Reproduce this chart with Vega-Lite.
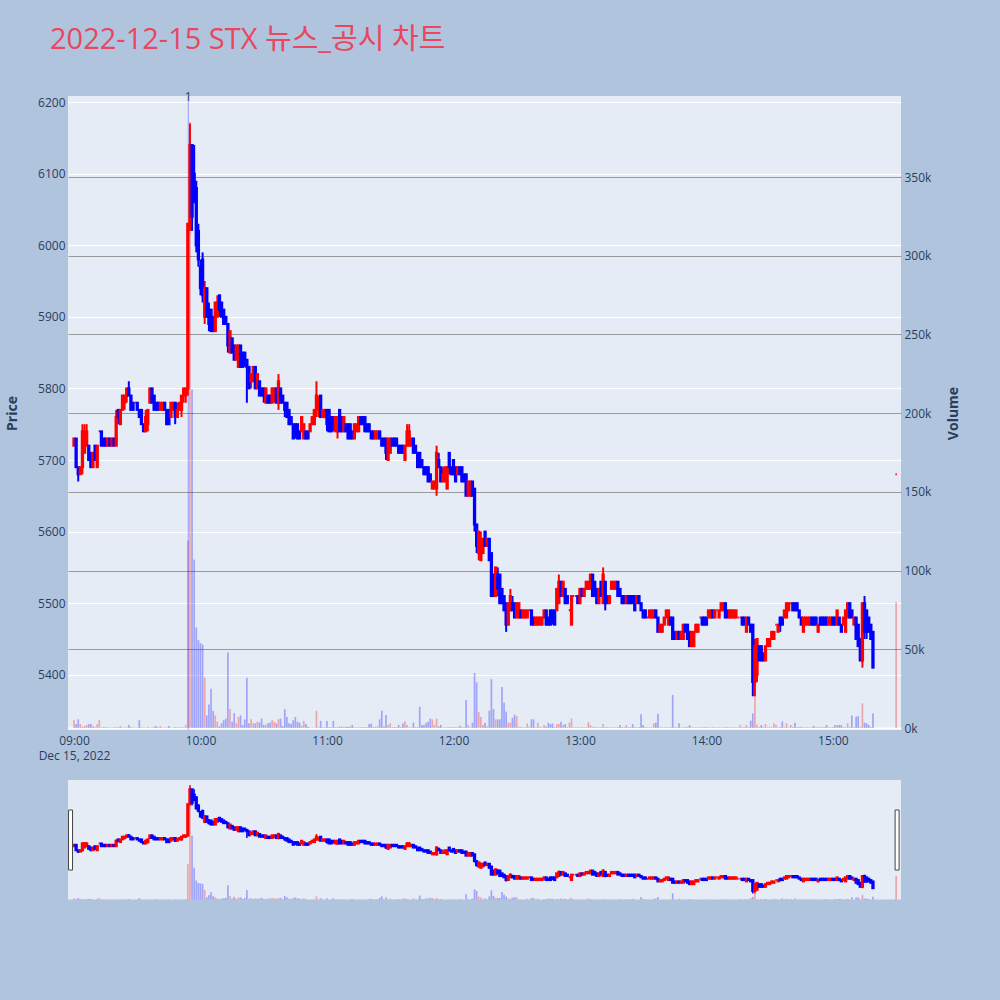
{
"$schema": "https://vega.github.io/schema/vega-lite/v6.json",
"width": 833, "height": 634,
"autosize": {"type": "none"},
"padding": {"left": 68, "top": 96, "right": 99, "bottom": 270},
"background": "#b0c4de",
"config": {"view": {"fill": "#e5ecf6", "stroke": null}, "font": "Open Sans, Noto Sans CJK KR, sans-serif"},
"title": {"text": "2022-12-15 STX 뉴스_공시 차트", "anchor": "start", "frame": "group", "fontSize": 29, "fontWeight": "normal", "color": "#e8475f", "font": "Open Sans, Noto Sans CJK KR, sans-serif", "offset": 13, "dx": -18, "baseline": "alphabetic"},
"data": {"values": [
{"m":0,"o":5720,"h":5730,"l":5720,"c":5730,"v":5000},
{"m":1,"o":5730,"h":5730,"l":5690,"c":5690,"v":2500},
{"m":2,"o":5690,"h":5690,"l":5670,"c":5680,"v":5500},
{"m":3,"o":5680,"h":5690,"l":5680,"c":5690,"v":2500},
{"m":4,"o":5690,"h":5750,"l":5680,"c":5740,"v":800},
{"m":5,"o":5710,"h":5750,"l":5710,"c":5740,"v":1300},
{"m":6,"o":5720,"h":5750,"l":5720,"c":5740,"v":1900},
{"m":7,"o":5720,"h":5720,"l":5700,"c":5700,"v":2500},
{"m":8,"o":5710,"h":5710,"l":5690,"c":5690,"v":2500},
{"m":9,"o":5690,"h":5710,"l":5690,"c":5710,"v":1300},
{"m":10,"o":5720,"h":5720,"l":5700,"c":5700,"v":400},
{"m":11,"o":5690,"h":5720,"l":5690,"c":5720,"v":2500},
{"m":12,"o":5740,"h":5740,"l":5740,"c":5740,"v":5000},
{"m":13,"o":5740,"h":5740,"l":5720,"c":5720,"v":300},
{"m":14,"o":5730,"h":5730,"l":5720,"c":5720,"v":500},
{"m":15,"o":5730,"h":5730,"l":5720,"c":5720,"v":500},
{"m":16,"o":5720,"h":5730,"l":5720,"c":5730,"v":500},
{"m":17,"o":5730,"h":5730,"l":5720,"c":5720,"v":300},
{"m":18,"o":5720,"h":5730,"l":5720,"c":5730,"v":300},
{"m":19,"o":5730,"h":5730,"l":5720,"c":5720,"v":500},
{"m":20,"o":5720,"h":5770,"l":5720,"c":5760,"v":500},
{"m":21,"o":5770,"h":5770,"l":5750,"c":5760,"v":500},
{"m":22,"o":5750,"h":5770,"l":5750,"c":5770,"v":1300},
{"m":23,"o":5770,"h":5790,"l":5770,"c":5790,"v":400},
{"m":24,"o":5780,"h":5790,"l":5770,"c":5790,"v":500},
{"m":25,"o":5790,"h":5800,"l":5780,"c":5800,"v":500},
{"m":26,"o":5800,"h":5810,"l":5790,"c":5790,"v":1900},
{"m":27,"o":5790,"h":5790,"l":5770,"c":5770,"v":500},
{"m":28,"o":5780,"h":5780,"l":5770,"c":5770,"v":300},
{"m":29,"o":5780,"h":5780,"l":5780,"c":5780,"v":300},
{"m":30,"o":5780,"h":5780,"l":5770,"c":5770,"v":300},
{"m":31,"o":5770,"h":5770,"l":5760,"c":5760,"v":5000},
{"m":32,"o":5770,"h":5770,"l":5750,"c":5750,"v":400},
{"m":33,"o":5750,"h":5750,"l":5740,"c":5740,"v":300},
{"m":34,"o":5740,"h":5770,"l":5740,"c":5760,"v":300},
{"m":35,"o":5750,"h":5770,"l":5740,"c":5770,"v":800},
{"m":36,"o":5780,"h":5800,"l":5780,"c":5800,"v":300},
{"m":37,"o":5800,"h":5800,"l":5780,"c":5780,"v":300},
{"m":38,"o":5790,"h":5790,"l":5770,"c":5770,"v":800},
{"m":39,"o":5780,"h":5780,"l":5770,"c":5770,"v":1300},
{"m":40,"o":5780,"h":5780,"l":5770,"c":5770,"v":400},
{"m":41,"o":5770,"h":5780,"l":5770,"c":5780,"v":1300},
{"m":42,"o":5770,"h":5780,"l":5770,"c":5780,"v":300},
{"m":43,"o":5780,"h":5780,"l":5770,"c":5770,"v":300},
{"m":44,"o":5770,"h":5770,"l":5750,"c":5750,"v":300},
{"m":45,"o":5770,"h":5770,"l":5750,"c":5750,"v":1300},
{"m":46,"o":5760,"h":5780,"l":5760,"c":5780,"v":300},
{"m":47,"o":5770,"h":5780,"l":5770,"c":5780,"v":300},
{"m":48,"o":5780,"h":5780,"l":5750,"c":5760,"v":500},
{"m":49,"o":5760,"h":5780,"l":5760,"c":5770,"v":500},
{"m":50,"o":5770,"h":5780,"l":5770,"c":5780,"v":500},
{"m":51,"o":5770,"h":5790,"l":5760,"c":5790,"v":500},
{"m":52,"o":5790,"h":5800,"l":5780,"c":5800,"v":500},
{"m":53,"o":5790,"h":5800,"l":5780,"c":5800,"v":2000},
{"m":54,"o":5800,"h":6030,"l":5790,"c":6030,"v":119000},
{"m":55,"o":6030,"h":6170,"l":6020,"c":6140,"v":385000},
{"m":56,"o":6140,"h":6140,"l":6020,"c":6040,"v":215000},
{"m":57,"o":6100,"h":6140,"l":6060,"c":6060,"v":107000},
{"m":58,"o":6080,"h":6090,"l":5990,"c":6000,"v":64000},
{"m":59,"o":6020,"h":6030,"l":5970,"c":5980,"v":56000},
{"m":60,"o":5970,"h":5980,"l":5930,"c":5940,"v":54000},
{"m":61,"o":5980,"h":5990,"l":5920,"c":5930,"v":53000},
{"m":62,"o":5900,"h":5950,"l":5890,"c":5940,"v":32000},
{"m":63,"o":5940,"h":5940,"l":5900,"c":5900,"v":8000},
{"m":64,"o":5910,"h":5920,"l":5880,"c":5890,"v":15000},
{"m":65,"o":5910,"h":5910,"l":5880,"c":5880,"v":25000},
{"m":66,"o":5900,"h":5900,"l":5880,"c":5880,"v":11000},
{"m":67,"o":5880,"h":5920,"l":5880,"c":5920,"v":8000},
{"m":68,"o":5900,"h":5930,"l":5900,"c":5920,"v":4000},
{"m":69,"o":5930,"h":5930,"l":5900,"c":5910,"v":1000},
{"m":70,"o":5920,"h":5920,"l":5900,"c":5900,"v":3000},
{"m":71,"o":5910,"h":5910,"l":5890,"c":5890,"v":5000},
{"m":72,"o":5900,"h":5900,"l":5890,"c":5890,"v":6000},
{"m":73,"o":5890,"h":5890,"l":5850,"c":5860,"v":48000},
{"m":74,"o":5850,"h":5880,"l":5850,"c":5880,"v":12000},
{"m":75,"o":5870,"h":5870,"l":5850,"c":5850,"v":4000},
{"m":76,"o":5860,"h":5860,"l":5840,"c":5840,"v":9500},
{"m":77,"o":5840,"h":5860,"l":5840,"c":5860,"v":3000},
{"m":78,"o":5830,"h":5860,"l":5830,"c":5860,"v":7000},
{"m":79,"o":5860,"h":5860,"l":5830,"c":5830,"v":8000},
{"m":80,"o":5850,"h":5850,"l":5830,"c":5830,"v":1900},
{"m":81,"o":5850,"h":5850,"l":5830,"c":5840,"v":5500},
{"m":82,"o":5840,"h":5840,"l":5780,"c":5830,"v":32000},
{"m":83,"o":5830,"h":5830,"l":5800,"c":5800,"v":3000},
{"m":84,"o":5810,"h":5820,"l":5800,"c":5820,"v":5500},
{"m":85,"o":5810,"h":5830,"l":5810,"c":5830,"v":3000},
{"m":86,"o":5830,"h":5830,"l":5800,"c":5800,"v":3000},
{"m":87,"o":5800,"h":5820,"l":5800,"c":5820,"v":4000},
{"m":88,"o":5810,"h":5810,"l":5790,"c":5790,"v":3500},
{"m":89,"o":5800,"h":5800,"l":5790,"c":5790,"v":6000},
{"m":90,"o":5800,"h":5800,"l":5780,"c":5790,"v":2000},
{"m":91,"o":5780,"h":5800,"l":5780,"c":5800,"v":2000},
{"m":92,"o":5790,"h":5790,"l":5780,"c":5780,"v":3000},
{"m":93,"o":5790,"h":5790,"l":5780,"c":5780,"v":3500},
{"m":94,"o":5780,"h":5800,"l":5780,"c":5800,"v":5000},
{"m":95,"o":5790,"h":5800,"l":5780,"c":5800,"v":4000},
{"m":96,"o":5800,"h":5800,"l":5780,"c":5780,"v":3000},
{"m":97,"o":5780,"h":5820,"l":5770,"c":5810,"v":5500},
{"m":98,"o":5800,"h":5800,"l":5780,"c":5780,"v":6000},
{"m":99,"o":5790,"h":5790,"l":5780,"c":5780,"v":1300},
{"m":100,"o":5780,"h":5780,"l":5760,"c":5770,"v":12000},
{"m":101,"o":5780,"h":5780,"l":5760,"c":5760,"v":7000},
{"m":102,"o":5770,"h":5770,"l":5750,"c":5750,"v":3000},
{"m":103,"o":5760,"h":5760,"l":5750,"c":5750,"v":2500},
{"m":104,"o":5750,"h":5750,"l":5730,"c":5730,"v":5000},
{"m":105,"o":5750,"h":5750,"l":5730,"c":5740,"v":7000},
{"m":106,"o":5750,"h":5750,"l":5730,"c":5730,"v":4000},
{"m":107,"o":5740,"h":5740,"l":5730,"c":5730,"v":3500},
{"m":108,"o":5740,"h":5760,"l":5740,"c":5760,"v":1500},
{"m":109,"o":5730,"h":5750,"l":5730,"c":5750,"v":4500},
{"m":110,"o":5740,"h":5740,"l":5730,"c":5730,"v":2500},
{"m":111,"o":5740,"h":5740,"l":5730,"c":5730,"v":800},
{"m":112,"o":5740,"h":5750,"l":5740,"c":5750,"v":300},
{"m":113,"o":5750,"h":5760,"l":5750,"c":5760,"v":300},
{"m":114,"o":5750,"h":5770,"l":5750,"c":5770,"v":300},
{"m":115,"o":5770,"h":5810,"l":5760,"c":5790,"v":11000},
{"m":116,"o":5770,"h":5790,"l":5760,"c":5780,"v":500},
{"m":117,"o":5790,"h":5790,"l":5760,"c":5760,"v":4500},
{"m":118,"o":5760,"h":5770,"l":5760,"c":5770,"v":500},
{"m":119,"o":5760,"h":5770,"l":5760,"c":5770,"v":500},
{"m":120,"o":5770,"h":5770,"l":5740,"c":5750,"v":4500},
{"m":121,"o":5770,"h":5770,"l":5740,"c":5740,"v":500},
{"m":122,"o":5760,"h":5760,"l":5740,"c":5740,"v":500},
{"m":123,"o":5760,"h":5760,"l":5740,"c":5750,"v":4500},
{"m":124,"o":5740,"h":5760,"l":5740,"c":5760,"v":500},
{"m":125,"o":5740,"h":5760,"l":5730,"c":5760,"v":800},
{"m":126,"o":5770,"h":5770,"l":5740,"c":5740,"v":800},
{"m":127,"o":5760,"h":5760,"l":5740,"c":5740,"v":800},
{"m":128,"o":5740,"h":5760,"l":5740,"c":5760,"v":800},
{"m":129,"o":5750,"h":5750,"l":5740,"c":5740,"v":800},
{"m":130,"o":5750,"h":5750,"l":5730,"c":5730,"v":800},
{"m":131,"o":5750,"h":5750,"l":5730,"c":5730,"v":800},
{"m":132,"o":5740,"h":5740,"l":5730,"c":5730,"v":1900},
{"m":133,"o":5730,"h":5750,"l":5730,"c":5750,"v":500},
{"m":134,"o":5740,"h":5750,"l":5740,"c":5750,"v":500},
{"m":135,"o":5740,"h":5760,"l":5740,"c":5760,"v":500},
{"m":136,"o":5760,"h":5760,"l":5750,"c":5750,"v":500},
{"m":137,"o":5760,"h":5760,"l":5750,"c":5750,"v":500},
{"m":138,"o":5760,"h":5760,"l":5740,"c":5740,"v":500},
{"m":139,"o":5750,"h":5750,"l":5740,"c":5740,"v":500},
{"m":140,"o":5750,"h":5750,"l":5740,"c":5740,"v":2500},
{"m":141,"o":5740,"h":5740,"l":5730,"c":5730,"v":2900},
{"m":142,"o":5740,"h":5740,"l":5730,"c":5730,"v":500},
{"m":143,"o":5730,"h":5740,"l":5730,"c":5740,"v":1000},
{"m":144,"o":5730,"h":5740,"l":5730,"c":5740,"v":1000},
{"m":145,"o":5740,"h":5740,"l":5730,"c":5730,"v":5500},
{"m":146,"o":5730,"h":5730,"l":5720,"c":5720,"v":11000},
{"m":147,"o":5730,"h":5730,"l":5720,"c":5720,"v":1000},
{"m":148,"o":5730,"h":5730,"l":5700,"c":5710,"v":8300},
{"m":149,"o":5700,"h":5730,"l":5700,"c":5730,"v":1900},
{"m":150,"o":5710,"h":5730,"l":5710,"c":5730,"v":3000},
{"m":151,"o":5730,"h":5730,"l":5720,"c":5720,"v":500},
{"m":152,"o":5730,"h":5730,"l":5720,"c":5720,"v":500},
{"m":153,"o":5730,"h":5730,"l":5720,"c":5720,"v":500},
{"m":154,"o":5720,"h":5720,"l":5710,"c":5710,"v":1900},
{"m":155,"o":5720,"h":5720,"l":5710,"c":5710,"v":500},
{"m":156,"o":5720,"h":5720,"l":5710,"c":5710,"v":2900},
{"m":157,"o":5700,"h":5720,"l":5700,"c":5720,"v":4300},
{"m":158,"o":5720,"h":5750,"l":5720,"c":5740,"v":1900},
{"m":159,"o":5720,"h":5750,"l":5720,"c":5740,"v":500},
{"m":160,"o":5720,"h":5730,"l":5720,"c":5730,"v":500},
{"m":161,"o":5730,"h":5730,"l":5710,"c":5710,"v":3400},
{"m":162,"o":5720,"h":5720,"l":5710,"c":5710,"v":500},
{"m":163,"o":5710,"h":5710,"l":5690,"c":5690,"v":500},
{"m":164,"o":5710,"h":5710,"l":5690,"c":5690,"v":13500},
{"m":165,"o":5700,"h":5700,"l":5690,"c":5690,"v":1900},
{"m":166,"o":5690,"h":5690,"l":5680,"c":5680,"v":1900},
{"m":167,"o":5690,"h":5690,"l":5680,"c":5680,"v":3400},
{"m":168,"o":5690,"h":5690,"l":5670,"c":5670,"v":4000},
{"m":169,"o":5680,"h":5680,"l":5670,"c":5670,"v":6000},
{"m":170,"o":5660,"h":5670,"l":5660,"c":5670,"v":5500},
{"m":171,"o":5660,"h":5670,"l":5660,"c":5670,"v":1900},
{"m":172,"o":5660,"h":5720,"l":5650,"c":5710,"v":6000},
{"m":173,"o":5700,"h":5710,"l":5690,"c":5690,"v":1000},
{"m":174,"o":5690,"h":5690,"l":5670,"c":5670,"v":2000},
{"m":175,"o":5670,"h":5690,"l":5670,"c":5680,"v":500},
{"m":176,"o":5670,"h":5690,"l":5670,"c":5690,"v":500},
{"m":177,"o":5660,"h":5690,"l":5660,"c":5690,"v":500},
{"m":178,"o":5710,"h":5710,"l":5680,"c":5690,"v":500},
{"m":179,"o":5690,"h":5690,"l":5680,"c":5680,"v":500},
{"m":180,"o":5700,"h":5700,"l":5680,"c":5680,"v":500},
{"m":181,"o":5690,"h":5690,"l":5670,"c":5670,"v":500},
{"m":182,"o":5680,"h":5690,"l":5680,"c":5690,"v":500},
{"m":183,"o":5690,"h":5690,"l":5680,"c":5680,"v":1500},
{"m":184,"o":5690,"h":5690,"l":5670,"c":5670,"v":500},
{"m":185,"o":5680,"h":5680,"l":5670,"c":5670,"v":500},
{"m":186,"o":5680,"h":5680,"l":5650,"c":5650,"v":17800},
{"m":187,"o":5650,"h":5670,"l":5650,"c":5670,"v":1900},
{"m":188,"o":5650,"h":5670,"l":5650,"c":5670,"v":500},
{"m":189,"o":5670,"h":5670,"l":5650,"c":5650,"v":3400},
{"m":190,"o":5660,"h":5660,"l":5600,"c":5610,"v":35000},
{"m":191,"o":5610,"h":5610,"l":5570,"c":5580,"v":29000},
{"m":192,"o":5570,"h":5600,"l":5560,"c":5600,"v":10000},
{"m":193,"o":5560,"h":5600,"l":5560,"c":5590,"v":7000},
{"m":194,"o":5570,"h":5590,"l":5570,"c":5590,"v":1900},
{"m":195,"o":5600,"h":5600,"l":5580,"c":5580,"v":3400},
{"m":196,"o":5580,"h":5590,"l":5580,"c":5590,"v":1000},
{"m":197,"o":5590,"h":5590,"l":5560,"c":5560,"v":11000},
{"m":198,"o":5570,"h":5570,"l":5510,"c":5510,"v":31000},
{"m":199,"o":5540,"h":5540,"l":5510,"c":5510,"v":12000},
{"m":200,"o":5510,"h":5550,"l":5510,"c":5550,"v":5500},
{"m":201,"o":5540,"h":5550,"l":5510,"c":5520,"v":5500},
{"m":202,"o":5540,"h":5540,"l":5500,"c":5500,"v":5500},
{"m":203,"o":5520,"h":5520,"l":5500,"c":5500,"v":26000},
{"m":204,"o":5510,"h":5510,"l":5490,"c":5490,"v":16000},
{"m":205,"o":5500,"h":5500,"l":5460,"c":5470,"v":10400},
{"m":206,"o":5470,"h":5500,"l":5470,"c":5500,"v":3400},
{"m":207,"o":5490,"h":5520,"l":5490,"c":5510,"v":3400},
{"m":208,"o":5500,"h":5510,"l":5490,"c":5490,"v":6500},
{"m":209,"o":5500,"h":5500,"l":5480,"c":5480,"v":8500},
{"m":210,"o":5480,"h":5500,"l":5480,"c":5500,"v":7500},
{"m":211,"o":5480,"h":5500,"l":5480,"c":5500,"v":800},
{"m":212,"o":5490,"h":5490,"l":5480,"c":5480,"v":500},
{"m":213,"o":5480,"h":5490,"l":5480,"c":5490,"v":500},
{"m":214,"o":5480,"h":5490,"l":5480,"c":5490,"v":500},
{"m":215,"o":5480,"h":5490,"l":5480,"c":5490,"v":2900},
{"m":216,"o":5490,"h":5490,"l":5490,"c":5490,"v":800},
{"m":217,"o":5490,"h":5490,"l":5470,"c":5470,"v":5500},
{"m":218,"o":5480,"h":5480,"l":5470,"c":5470,"v":5500},
{"m":219,"o":5470,"h":5480,"l":5470,"c":5480,"v":500},
{"m":220,"o":5470,"h":5480,"l":5470,"c":5480,"v":3400},
{"m":221,"o":5470,"h":5480,"l":5470,"c":5480,"v":800},
{"m":222,"o":5470,"h":5480,"l":5470,"c":5480,"v":500},
{"m":223,"o":5480,"h":5490,"l":5480,"c":5490,"v":1900},
{"m":224,"o":5490,"h":5490,"l":5470,"c":5470,"v":800},
{"m":225,"o":5480,"h":5480,"l":5470,"c":5470,"v":3400},
{"m":226,"o":5490,"h":5490,"l":5470,"c":5470,"v":2500},
{"m":227,"o":5490,"h":5490,"l":5470,"c":5480,"v":2900},
{"m":228,"o":5490,"h":5490,"l":5470,"c":5470,"v":500},
{"m":229,"o":5490,"h":5520,"l":5490,"c":5520,"v":2500},
{"m":230,"o":5500,"h":5540,"l":5500,"c":5530,"v":2500},
{"m":231,"o":5530,"h":5530,"l":5510,"c":5510,"v":4000},
{"m":232,"o":5510,"h":5530,"l":5510,"c":5530,"v":1900},
{"m":233,"o":5520,"h":5520,"l":5500,"c":5500,"v":2500},
{"m":234,"o":5510,"h":5510,"l":5500,"c":5500,"v":500},
{"m":235,"o":5490,"h":5490,"l":5490,"c":5490,"v":3400},
{"m":236,"o":5470,"h":5510,"l":5470,"c":5510,"v":6000},
{"m":237,"o":5510,"h":5510,"l":5510,"c":5510,"v":500},
{"m":238,"o":5510,"h":5510,"l":5510,"c":5510,"v":500},
{"m":239,"o":5510,"h":5510,"l":5500,"c":5500,"v":500},
{"m":240,"o":5500,"h":5520,"l":5500,"c":5520,"v":500},
{"m":241,"o":5520,"h":5520,"l":5510,"c":5510,"v":500},
{"m":242,"o":5510,"h":5520,"l":5510,"c":5520,"v":500},
{"m":243,"o":5520,"h":5530,"l":5520,"c":5530,"v":500},
{"m":244,"o":5520,"h":5530,"l":5520,"c":5530,"v":3800},
{"m":245,"o":5520,"h":5540,"l":5520,"c":5540,"v":1900},
{"m":246,"o":5540,"h":5540,"l":5510,"c":5510,"v":500},
{"m":247,"o":5530,"h":5530,"l":5510,"c":5510,"v":500},
{"m":248,"o":5520,"h":5520,"l":5500,"c":5500,"v":500},
{"m":249,"o":5500,"h":5520,"l":5500,"c":5520,"v":500},
{"m":250,"o":5530,"h":5530,"l":5510,"c":5510,"v":500},
{"m":251,"o":5500,"h":5550,"l":5500,"c":5540,"v":2500},
{"m":252,"o":5530,"h":5530,"l":5490,"c":5500,"v":500},
{"m":253,"o":5510,"h":5510,"l":5500,"c":5500,"v":500},
{"m":254,"o":5500,"h":5510,"l":5500,"c":5510,"v":500},
{"m":255,"o":5520,"h":5530,"l":5520,"c":5530,"v":500},
{"m":256,"o":5520,"h":5530,"l":5520,"c":5530,"v":500},
{"m":257,"o":5520,"h":5530,"l":5520,"c":5530,"v":500},
{"m":258,"o":5530,"h":5530,"l":5510,"c":5510,"v":500},
{"m":259,"o":5520,"h":5520,"l":5510,"c":5510,"v":1900},
{"m":260,"o":5510,"h":5510,"l":5500,"c":5500,"v":500},
{"m":261,"o":5510,"h":5510,"l":5500,"c":5500,"v":500},
{"m":262,"o":5500,"h":5510,"l":5500,"c":5510,"v":1900},
{"m":263,"o":5510,"h":5510,"l":5500,"c":5500,"v":500},
{"m":264,"o":5510,"h":5510,"l":5500,"c":5500,"v":500},
{"m":265,"o":5510,"h":5510,"l":5500,"c":5500,"v":2500},
{"m":266,"o":5510,"h":5510,"l":5490,"c":5490,"v":500},
{"m":267,"o":5500,"h":5510,"l":5500,"c":5510,"v":500},
{"m":268,"o":5510,"h":5510,"l":5500,"c":5500,"v":500},
{"m":269,"o":5500,"h":5500,"l":5490,"c":5490,"v":8700},
{"m":270,"o":5490,"h":5490,"l":5480,"c":5480,"v":1900},
{"m":271,"o":5490,"h":5490,"l":5480,"c":5480,"v":500},
{"m":272,"o":5480,"h":5480,"l":5480,"c":5480,"v":500},
{"m":273,"o":5480,"h":5490,"l":5480,"c":5490,"v":500},
{"m":274,"o":5480,"h":5490,"l":5480,"c":5490,"v":500},
{"m":275,"o":5480,"h":5490,"l":5480,"c":5490,"v":3000},
{"m":276,"o":5490,"h":5490,"l":5480,"c":5480,"v":3400},
{"m":277,"o":5480,"h":5480,"l":5460,"c":5460,"v":9000},
{"m":278,"o":5460,"h":5470,"l":5460,"c":5470,"v":500},
{"m":279,"o":5460,"h":5470,"l":5460,"c":5470,"v":500},
{"m":280,"o":5470,"h":5480,"l":5470,"c":5480,"v":500},
{"m":281,"o":5480,"h":5490,"l":5480,"c":5490,"v":500},
{"m":282,"o":5470,"h":5490,"l":5470,"c":5490,"v":500},
{"m":283,"o":5480,"h":5480,"l":5470,"c":5470,"v":500},
{"m":284,"o":5480,"h":5480,"l":5450,"c":5450,"v":21000},
{"m":285,"o":5460,"h":5460,"l":5450,"c":5450,"v":500},
{"m":286,"o":5450,"h":5460,"l":5450,"c":5460,"v":500},
{"m":287,"o":5460,"h":5460,"l":5450,"c":5450,"v":3000},
{"m":288,"o":5450,"h":5460,"l":5450,"c":5460,"v":500},
{"m":289,"o":5450,"h":5470,"l":5450,"c":5470,"v":500},
{"m":290,"o":5470,"h":5470,"l":5460,"c":5460,"v":500},
{"m":291,"o":5470,"h":5470,"l":5450,"c":5450,"v":500},
{"m":292,"o":5460,"h":5460,"l":5440,"c":5440,"v":1900},
{"m":293,"o":5440,"h":5460,"l":5440,"c":5460,"v":500},
{"m":294,"o":5440,"h":5460,"l":5440,"c":5460,"v":500},
{"m":295,"o":5460,"h":5470,"l":5460,"c":5470,"v":500},
{"m":296,"o":5460,"h":5470,"l":5460,"c":5470,"v":500},
{"m":297,"o":5480,"h":5480,"l":5480,"c":5480,"v":500},
{"m":298,"o":5480,"h":5480,"l":5470,"c":5470,"v":500},
{"m":299,"o":5480,"h":5480,"l":5470,"c":5470,"v":500},
{"m":300,"o":5480,"h":5480,"l":5470,"c":5470,"v":500},
{"m":301,"o":5480,"h":5490,"l":5480,"c":5490,"v":500},
{"m":302,"o":5480,"h":5490,"l":5480,"c":5490,"v":500},
{"m":303,"o":5490,"h":5490,"l":5480,"c":5480,"v":500},
{"m":304,"o":5480,"h":5490,"l":5480,"c":5490,"v":500},
{"m":305,"o":5490,"h":5490,"l":5490,"c":5490,"v":500},
{"m":306,"o":5480,"h":5490,"l":5480,"c":5490,"v":500},
{"m":307,"o":5490,"h":5500,"l":5490,"c":5500,"v":500},
{"m":308,"o":5490,"h":5500,"l":5490,"c":5500,"v":500},
{"m":309,"o":5500,"h":5500,"l":5480,"c":5480,"v":500},
{"m":310,"o":5490,"h":5490,"l":5480,"c":5480,"v":500},
{"m":311,"o":5480,"h":5490,"l":5480,"c":5490,"v":500},
{"m":312,"o":5480,"h":5490,"l":5480,"c":5490,"v":500},
{"m":313,"o":5480,"h":5490,"l":5480,"c":5490,"v":500},
{"m":314,"o":5480,"h":5490,"l":5480,"c":5490,"v":500},
{"m":315,"o":5480,"h":5480,"l":5480,"c":5480,"v":500},
{"m":316,"o":5480,"h":5480,"l":5480,"c":5480,"v":1900},
{"m":317,"o":5480,"h":5480,"l":5470,"c":5470,"v":500},
{"m":318,"o":5480,"h":5480,"l":5470,"c":5470,"v":500},
{"m":319,"o":5460,"h":5480,"l":5460,"c":5480,"v":1900},
{"m":320,"o":5480,"h":5480,"l":5470,"c":5470,"v":500},
{"m":321,"o":5470,"h":5470,"l":5460,"c":5460,"v":4700},
{"m":322,"o":5470,"h":5470,"l":5370,"c":5390,"v":9300},
{"m":323,"o":5390,"h":5450,"l":5370,"c":5440,"v":21000},
{"m":324,"o":5400,"h":5450,"l":5390,"c":5450,"v":2000},
{"m":325,"o":5440,"h":5440,"l":5420,"c":5420,"v":500},
{"m":326,"o":5440,"h":5440,"l":5420,"c":5420,"v":1900},
{"m":327,"o":5430,"h":5430,"l":5420,"c":5420,"v":500},
{"m":328,"o":5420,"h":5440,"l":5420,"c":5440,"v":2500},
{"m":329,"o":5440,"h":5450,"l":5440,"c":5450,"v":500},
{"m":330,"o":5440,"h":5450,"l":5440,"c":5450,"v":800},
{"m":331,"o":5450,"h":5460,"l":5450,"c":5460,"v":500},
{"m":332,"o":5450,"h":5460,"l":5450,"c":5460,"v":3000},
{"m":333,"o":5470,"h":5470,"l":5470,"c":5470,"v":2000},
{"m":334,"o":5460,"h":5470,"l":5460,"c":5470,"v":500},
{"m":335,"o":5480,"h":5480,"l":5460,"c":5470,"v":500},
{"m":336,"o":5480,"h":5480,"l":5470,"c":5470,"v":4200},
{"m":337,"o":5480,"h":5490,"l":5480,"c":5490,"v":500},
{"m":338,"o":5480,"h":5500,"l":5480,"c":5500,"v":3000},
{"m":339,"o":5490,"h":5500,"l":5490,"c":5500,"v":500},
{"m":340,"o":5500,"h":5500,"l":5500,"c":5500,"v":1900},
{"m":341,"o":5500,"h":5500,"l":5490,"c":5490,"v":500},
{"m":342,"o":5500,"h":5500,"l":5490,"c":5490,"v":3400},
{"m":343,"o":5500,"h":5500,"l":5490,"c":5490,"v":500},
{"m":344,"o":5490,"h":5490,"l":5480,"c":5480,"v":500},
{"m":345,"o":5480,"h":5480,"l":5470,"c":5470,"v":800},
{"m":346,"o":5460,"h":5480,"l":5460,"c":5480,"v":500},
{"m":347,"o":5470,"h":5480,"l":5470,"c":5480,"v":500},
{"m":348,"o":5470,"h":5480,"l":5470,"c":5480,"v":500},
{"m":349,"o":5470,"h":5480,"l":5470,"c":5480,"v":500},
{"m":350,"o":5480,"h":5480,"l":5470,"c":5470,"v":500},
{"m":351,"o":5480,"h":5480,"l":5470,"c":5470,"v":1500},
{"m":352,"o":5480,"h":5480,"l":5470,"c":5470,"v":500},
{"m":353,"o":5460,"h":5470,"l":5460,"c":5470,"v":500},
{"m":354,"o":5480,"h":5480,"l":5470,"c":5470,"v":500},
{"m":355,"o":5480,"h":5480,"l":5470,"c":5470,"v":500},
{"m":356,"o":5480,"h":5480,"l":5470,"c":5470,"v":500},
{"m":357,"o":5480,"h":5480,"l":5470,"c":5470,"v":1900},
{"m":358,"o":5470,"h":5480,"l":5470,"c":5480,"v":500},
{"m":359,"o":5470,"h":5480,"l":5470,"c":5480,"v":500},
{"m":360,"o":5480,"h":5480,"l":5470,"c":5470,"v":500},
{"m":361,"o":5480,"h":5480,"l":5470,"c":5470,"v":1900},
{"m":362,"o":5470,"h":5490,"l":5470,"c":5490,"v":1900},
{"m":363,"o":5480,"h":5480,"l":5470,"c":5470,"v":1900},
{"m":364,"o":5470,"h":5470,"l":5460,"c":5460,"v":1900},
{"m":365,"o":5470,"h":5480,"l":5470,"c":5480,"v":500},
{"m":366,"o":5460,"h":5490,"l":5460,"c":5490,"v":500},
{"m":367,"o":5480,"h":5500,"l":5480,"c":5500,"v":3000},
{"m":368,"o":5500,"h":5500,"l":5480,"c":5480,"v":500},
{"m":369,"o":5490,"h":5490,"l":5480,"c":5480,"v":8000},
{"m":370,"o":5470,"h":5480,"l":5470,"c":5480,"v":500},
{"m":371,"o":5480,"h":5480,"l":5450,"c":5450,"v":7200},
{"m":372,"o":5470,"h":5470,"l":5440,"c":5440,"v":7600},
{"m":373,"o":5450,"h":5450,"l":5420,"c":5420,"v":500},
{"m":374,"o":5420,"h":5500,"l":5410,"c":5500,"v":15700},
{"m":375,"o":5500,"h":5510,"l":5450,"c":5460,"v":3400},
{"m":376,"o":5490,"h":5490,"l":5450,"c":5460,"v":3000},
{"m":377,"o":5480,"h":5480,"l":5460,"c":5460,"v":1900},
{"m":378,"o":5470,"h":5470,"l":5450,"c":5450,"v":500},
{"m":379,"o":5460,"h":5460,"l":5410,"c":5410,"v":9300},
{"m":390,"o":5680,"h":5680,"l":5680,"c":5680,"v":80000}
]},
"encoding": {
  "x": {"field": "m", "type": "quantitative",
    "scale": {"domain": [-2.85, 392.3], "nice": false, "zero": false, "padding": 0},
    "axis": {"values": [0, 60, 120, 180, 240, 300, 360], "labelExpr": "datum.value == 0 ? ['09:00', 'Dec 15, 2022'] : pad(toString(9 + datum.value / 60), 2, '0', 'left') + ':00'", "grid": false, "ticks": false, "domain": false, "labelPadding": 5, "labelFontSize": 12, "labelColor": "#2a3f5f", "labelLineHeight": 15, "labelFlush": false, "labelOverlap": false, "title": null}}
},
"layer": [
  {
    "mark": {"type": "bar", "size": 1.7, "opacity": 0.3},
    "encoding": {
      "y": {"field": "v", "type": "quantitative", "scale": {"domain": [-1270, 401500], "nice": false, "zero": false, "padding": 0},
        "axis": {"orient": "right", "values": [0, 50000, 100000, 150000, 200000, 250000, 300000, 350000], "format": "~s", "title": "Volume", "titleAngle": 270, "titleFontSize": 14, "titleFontWeight": "bold", "titleColor": "#2a3f5f", "titlePadding": 30, "labelColor": "#2a3f5f", "labelFontSize": 12, "labelPadding": 3, "ticks": false, "domain": false, "grid": true, "gridColor": {"condition": {"test": "datum.value == 0", "value": "#ffffff"}, "value": "#9a9a9a"}, "gridWidth": {"condition": {"test": "datum.value == 0", "value": 2}, "value": 1}}},
      "y2": {"datum": 0},
      "color": {"condition": {"test": "datum.c >= datum.o", "value": "#ff0000"}, "value": "#0000ff"}
    }
  },
  {
    "layer": [
      {
        "data": {"values": [{"m": 54.2, "t": "1"}]},
        "mark": {"type": "rule", "color": "#0000ff", "opacity": 0.35, "strokeWidth": 1},
        "encoding": {"x": {"field": "m", "type": "quantitative"}}
      },
      {
        "mark": {"type": "rule", "strokeWidth": 2},
        "encoding": {
          "y": {"field": "l", "type": "quantitative", "scale": {"domain": [5322.9, 6208.4], "nice": false, "zero": false, "padding": 0},
            "axis": {"orient": "left", "values": [5400, 5500, 5600, 5700, 5800, 5900, 6000, 6100, 6200], "format": "d", "title": "Price", "titleFontSize": 14, "titleFontWeight": "bold", "titleColor": "#2a3f5f", "titlePadding": 18, "labelColor": "#2a3f5f", "labelFontSize": 12, "labelPadding": 3, "ticks": false, "domain": false, "grid": true, "gridColor": "#ffffff", "gridWidth": 1}},
          "y2": {"field": "h"},
          "color": {"condition": {"test": "datum.c >= datum.o", "value": "#ff0000"}, "value": "#0000ff"}
        }
      },
      {
        "mark": {"type": "bar", "size": 1.3, "strokeWidth": 2},
        "encoding": {
          "y": {"field": "o", "type": "quantitative"},
          "y2": {"field": "c"},
          "color": {"condition": {"test": "datum.c >= datum.o", "value": "#ff0000"}, "value": "#0000ff"},
          "stroke": {"condition": {"test": "datum.c >= datum.o", "value": "#ff0000"}, "value": "#0000ff"}
        }
      },
      {
        "data": {"values": [{"m": 54.2, "t": "1"}]},
        "mark": {"type": "text", "fontSize": 12, "color": "#2a3f5f", "baseline": "middle", "dy": 1},
        "encoding": {"x": {"field": "m", "type": "quantitative"}, "y": {"datum": 6208.4, "type": "quantitative"}, "text": {"field": "t"}}
      }
    ]
  },
  {
    "layer": [
      {
        "data": {"values": [{"a": -2.85, "b": 392.3}]},
        "mark": {"type": "rect", "color": "#e5ecf6"},
        "encoding": {"x": {"field": "a", "type": "quantitative"}, "x2": {"field": "b"}, "y": {"datum": 0, "type": "quantitative", "scale": {"domain": [-1270, 401500], "range": [804, 684], "nice": false, "zero": false, "padding": 0}, "axis": null}, "y2": {"datum": 401500}}
      },
      {
        "mark": {"type": "bar", "size": 1.7, "opacity": 0.3},
        "encoding": {
          "y": {"field": "v", "type": "quantitative"},
          "y2": {"datum": 0},
          "color": {"condition": {"test": "datum.c >= datum.o", "value": "#ff0000"}, "value": "#0000ff"}
        }
      }
    ]
  },
  {
    "layer": [
      {
        "mark": {"type": "rule", "strokeWidth": 1.5},
        "encoding": {
          "y": {"field": "l", "type": "quantitative", "scale": {"domain": [5322.9, 6208.4], "range": [804, 684], "nice": false, "zero": false, "padding": 0}, "axis": null},
          "y2": {"field": "h"},
          "color": {"condition": {"test": "datum.c >= datum.o", "value": "#ff0000"}, "value": "#0000ff"}
        }
      },
      {
        "mark": {"type": "bar", "size": 1.3, "strokeWidth": 2},
        "encoding": {
          "y": {"field": "o", "type": "quantitative"},
          "y2": {"field": "c"},
          "color": {"condition": {"test": "datum.c >= datum.o", "value": "#ff0000"}, "value": "#0000ff"},
          "stroke": {"condition": {"test": "datum.c >= datum.o", "value": "#ff0000"}, "value": "#0000ff"}
        }
      },
      {
        "data": {"values": [{"a": -2.6, "b": -0.7}, {"a": 389.5, "b": 391.4}]},
        "mark": {"type": "rect", "fill": "#ffffff", "stroke": "#444444", "strokeWidth": 1},
        "encoding": {"x": {"field": "a", "type": "quantitative"}, "x2": {"field": "b"}, "y": {"datum": 5544, "type": "quantitative"}, "y2": {"datum": 5987}}
      }
    ]
  }
],
"resolve": {"scale": {"y": "independent"}, "axis": {"y": "independent"}}
}
